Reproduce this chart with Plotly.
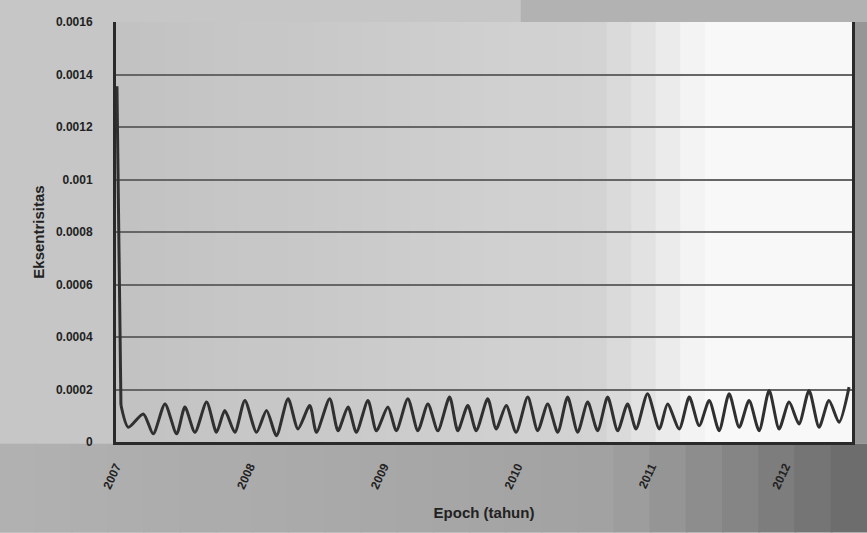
import plotly.graph_objects as go

# Data (epoch in decimal years, eccentricity)
epoch = [2007.007, 2007.037, 2007.092, 2007.204, 2007.278, 2007.366, 2007.453, 2007.515,
         2007.590, 2007.677, 2007.751, 2007.813, 2007.888, 2007.963, 2008.050, 2008.125,
         2008.199, 2008.286, 2008.360, 2008.448, 2008.498, 2008.597, 2008.659, 2008.734,
         2008.796, 2008.883, 2008.946, 2009.032, 2009.095, 2009.181, 2009.256, 2009.331,
         2009.405, 2009.493, 2009.554, 2009.629, 2009.692, 2009.778, 2009.841, 2009.916,
         2009.990, 2010.077, 2010.151, 2010.226, 2010.301, 2010.375, 2010.450, 2010.525,
         2010.599, 2010.674, 2010.749, 2010.823, 2010.886, 2010.972, 2011.060, 2011.122,
         2011.209, 2011.284, 2011.358, 2011.433, 2011.507, 2011.582, 2011.657, 2011.731,
         2011.806, 2011.881, 2011.955, 2012.030, 2012.104, 2012.179, 2012.254, 2012.328,
         2012.403, 2012.478]
eksentrisitas = [0.001355, 0.000141, 0.000056, 0.000107, 0.000031, 0.000145, 0.000031, 0.000133,
                 0.000037, 0.000152, 0.000037, 0.000120, 0.000037, 0.000158, 0.000037, 0.000120,
                 0.000024, 0.000165, 0.000050, 0.000139, 0.000037, 0.000165, 0.000043, 0.000133,
                 0.000037, 0.000158, 0.000043, 0.000133, 0.000043, 0.000165, 0.000043, 0.000145,
                 0.000043, 0.000171, 0.000043, 0.000139, 0.000043, 0.000165, 0.000050, 0.000139,
                 0.000037, 0.000171, 0.000043, 0.000145, 0.000037, 0.000171, 0.000037, 0.000152,
                 0.000043, 0.000171, 0.000043, 0.000145, 0.000050, 0.000184, 0.000050, 0.000145,
                 0.000050, 0.000171, 0.000062, 0.000158, 0.000043, 0.000184, 0.000056, 0.000158,
                 0.000043, 0.000196, 0.000050, 0.000152, 0.000069, 0.000196, 0.000056, 0.000158,
                 0.000075, 0.000209]

x_ticks = [2007, 2008, 2009, 2010, 2011, 2012]
x_ticktext = ["2007", "2008", "2009", "2010", "2011", "2012"]
y_ticks = [0, 0.0002, 0.0004, 0.0006, 0.0008, 0.001, 0.0012, 0.0014, 0.0016]
y_ticktext = ["0", "0.0002", "0.0004", "0.0006", "0.0008", "0.001", "0.0012", "0.0014", "0.0016"]

LINE = "#303030"
fig = go.Figure()
# initial spike (sharp drop)
fig.add_trace(go.Scatter(
    x=epoch[:2], y=eksentrisitas[:2], mode="lines",
    line=dict(color=LINE, width=3), showlegend=False, hoverinfo="x+y"))
# oscillating part
fig.add_trace(go.Scatter(
    x=epoch[1:], y=eksentrisitas[1:], mode="lines",
    line=dict(color=LINE, width=3, shape="spline", smoothing=0.7),
    showlegend=False, hoverinfo="x+y"))

# background shading (scan look): plot area gets lighter to the right
shapes = []
n = 30
for i in range(n):
    t = (i + 0.5) / n
    if t < 0.66:
        g = 194 + (212 - 194) * (t / 0.66)
    elif t < 0.80:
        g = 212 + (248 - 212) * ((t - 0.66) / 0.14)
    else:
        g = 248
    g = int(g)
    shapes.append(dict(type="rect", xref="paper", yref="paper",
                       x0=i / n, x1=(i + 1) / n + 0.002, y0=0, y1=1,
                       fillcolor=f"rgb({g},{g},{g})", line=dict(width=0), layer="below"))
# darker band under the plot, darkening toward the bottom right
m = 24
x_start, x_end = -0.16, 1.02
for i in range(m):
    t = (i + 0.5) / m
    g = 178 - 22 * t - 50 * max(0.0, (t - 0.7) / 0.3)
    g = int(g)
    shapes.append(dict(type="rect", xref="paper", yref="paper",
                       x0=x_start + i * (x_end - x_start) / m,
                       x1=x_start + (i + 1) * (x_end - x_start) / m + 0.003,
                       y0=-0.215, y1=-0.004,
                       fillcolor=f"rgb({g},{g},{g})", line=dict(width=0), layer="below"))
# grey strip right of the plot
shapes.append(dict(type="rect", xref="paper", yref="paper", x0=1.003, x1=1.03, y0=-0.004, y1=1.06,
                   fillcolor="rgb(150,150,150)", line=dict(width=0), layer="below"))
# strip above the plot
shapes.append(dict(type="rect", xref="paper", yref="paper", x0=0.55, x1=1.03, y0=1.0, y1=1.06,
                   fillcolor="rgb(178,178,178)", line=dict(width=0), layer="below"))

fig.update_layout(
    width=867, height=533,
    margin=dict(l=116, r=15, t=22, b=91),
    paper_bgcolor="#c6c6c6",
    plot_bgcolor="rgba(0,0,0,0)",
    shapes=shapes,
    font=dict(family="Liberation Sans", color="#222222"),
    xaxis=dict(
        range=[2007, 2012.5],
        tickvals=x_ticks, ticktext=x_ticktext,
        tickangle=-65,
        tickfont=dict(size=12, family="Liberation Sans", weight="bold", color="#222222"),
        showgrid=False, zeroline=False,
        showline=True, linecolor="#2a2a2a", linewidth=3, mirror=False,
        ticks="", ticklabelstandoff=10,
        title=dict(text="Epoch (tahun)", standoff=18,
                   font=dict(size=15, family="Liberation Sans", weight="bold", color="#222222")),
    ),
    yaxis=dict(
        range=[0, 0.0016],
        tickvals=y_ticks, ticktext=y_ticktext,
        tickfont=dict(size=12, family="Liberation Sans", weight="bold", color="#222222"),
        showgrid=True, gridcolor="#666666", gridwidth=1.5,
        zeroline=False,
        showline=True, linecolor="#2a2a2a", linewidth=3, mirror=True,
        ticks="", ticklabelstandoff=18,
        title=dict(text="Eksentrisitas", standoff=8,
                   font=dict(size=15, family="Liberation Sans", weight="bold", color="#222222")),
    ),
)

fig.write_html("out.html", config={"displayModeBar": False},
               post_script="document.body.style.margin='0';")
